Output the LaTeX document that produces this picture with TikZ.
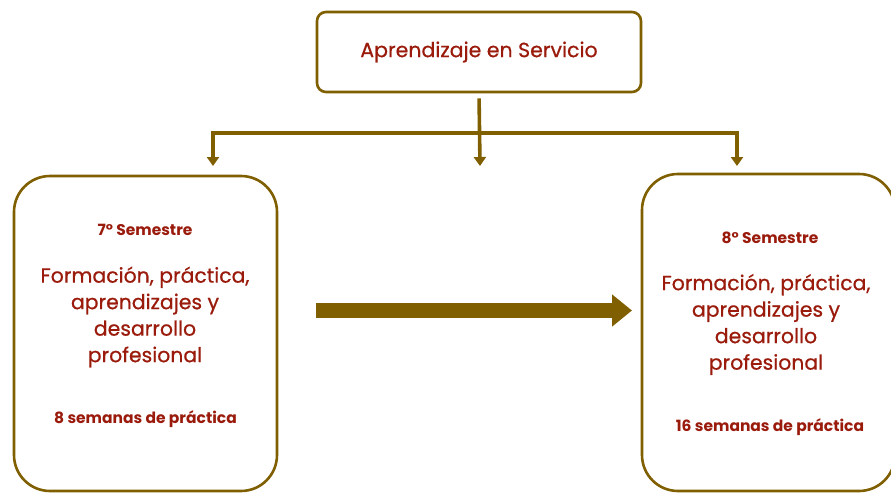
\documentclass[tikz,border=0pt]{standalone}
\usepackage{fontspec}
\setmainfont{Poppins}
\newfontfamily\medfont{Poppins}[FakeBold=0.6]
\usetikzlibrary{arrows.meta}
\definecolor{lineBrown}{HTML}{7F5F00}
\definecolor{textRed}{HTML}{9A1B0C}

\begin{document}
\begin{tikzpicture}[x=1pt,y=-1pt,
    every node/.style={text=textRed},
    box/.style={draw=lineBrown,line width=2.6pt,fill=white,inner sep=0pt},
    conn/.style={draw=lineBrown,line width=3.6pt},
    tip/.style={-{Triangle[width=12pt,length=9pt]}},
    small/.style={font=\fontsize{15.5}{18}\selectfont\bfseries},
    big/.style={align=center,font=\fontsize{20.4}{26.5}\medfont}]
    \useasboundingbox (0,0) rectangle (891,493);
    % boxes
    \node[box,rounded corners=9pt,minimum width=324pt,minimum height=80pt] (top) at (479,52) {};
    \node[box,rounded corners=36pt,minimum width=263pt,minimum height=315pt] (sem7) at (145.5,333.5) {};
    \node[box,rounded corners=36pt,minimum width=253pt,minimum height=317pt] (sem8) at (768.5,332.5) {};
    % texts
    \node[font=\fontsize{20.5}{24}\medfont] (title) at (top.center) {Aprendizaje en Servicio};
    \node[small] (s7) at (145,230) {7° Semestre};
    \node[big] (f7) at (145,317) {Formación, práctica,\\aprendizajes y\\desarrollo\\profesional};
    \node[small] (w7) at (145.5,419) {8 semanas de práctica};
    \node[small] (s8) at (770,238) {8° Semestre};
    \node[big] (f8) at (766,324.5) {Formación, práctica,\\aprendizajes y\\desarrollo\\profesional};
    \node[small] (w8) at (770,427) {16 semanas de práctica};
    % connectors
    \coordinate (split) at (480,133);
    \coordinate (dl) at (213,166);
    \coordinate (dm) at (480,166);
    \coordinate (dr) at (737,166);
    \draw[conn,tip,shorten <=5pt] (top.south) -- (dm);
    \draw[conn,{Triangle[width=12pt,length=9pt]}-{Triangle[width=12pt,length=9pt]}] (dl) |- (split) -| (dr);
    % big arrow
    \coordinate (arrS) at (316,310.5);
    \coordinate (arrE) at (632,310.5);
    \draw[draw=lineBrown,line width=15pt,-{Triangle[width=31pt,length=20pt]}] (arrS) -- (arrE);
\end{tikzpicture}
\end{document}
